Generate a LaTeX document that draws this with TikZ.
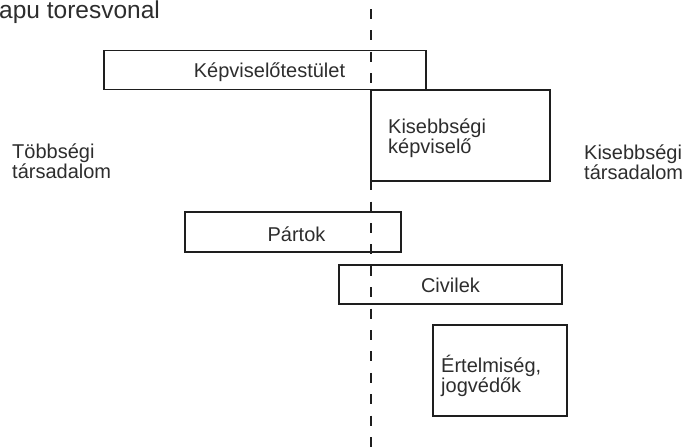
\documentclass[tikz,border=0pt]{standalone}
\usepackage{fontspec}
\setmainfont{Liberation Sans}
\definecolor{txt}{RGB}{45,45,45}
\definecolor{ln}{RGB}{30,30,30}
\begin{document}
\begin{tikzpicture}[x=1pt,y=-1pt,
  box/.style={draw=ln,line width=1.2pt,rectangle,inner sep=0pt},
  lbl/.style={text=txt,inner sep=0pt,font=\fontsize{20}{20.5}\selectfont,align=left},
  divider/.style={draw=ln,line width=2.2pt,dash pattern=on 10pt off 11.4pt,dash phase=12.4pt}]
\useasboundingbox (0,0) rectangle (687,447);
% boxes
\node[box,minimum width=322pt,minimum height=39pt] (kt) at (265,70) {};
\node[box,minimum width=179pt,minimum height=91pt] (kk) at (460.5,135.5) {};
\node[box,minimum width=216pt,minimum height=40pt] (pa) at (293,232) {};
\node[box,minimum width=223pt,minimum height=39pt] (ci) at (450.5,284.5) {};
\node[box,minimum width=134pt,minimum height=91pt] (er) at (500,370.5) {};
% texts
\node[lbl,anchor=base] (tkt) at (269.5,77) {Képviselőtestület};
\node[lbl,anchor=base west] (tkk) at (388,153.5) {Kisebbségi\\képviselő};
\node[lbl,anchor=base] (tpa) at (296.5,241) {Pártok};
\node[lbl,anchor=base] (tci) at (450.5,292) {Civilek};
\node[lbl,anchor=base west] (ter) at (441,392.5) {Értelmiség,\\jogvédők};
\node[lbl,anchor=base west] (ttb) at (12,178.5) {Többségi\\társadalom};
\node[lbl,anchor=base west] (tks) at (584,179.5) {Kisebbségi\\társadalom};
\node[text=txt,inner sep=0pt,font=\fontsize{24.5}{26}\selectfont,anchor=base west] (title) at (-1,18) {apu toresvonal};
% divider
\coordinate (dtop) at (371,0);
\coordinate (dbot) at (371,447);
\draw[divider] (dtop) -- (dbot);
\end{tikzpicture}
\end{document}
